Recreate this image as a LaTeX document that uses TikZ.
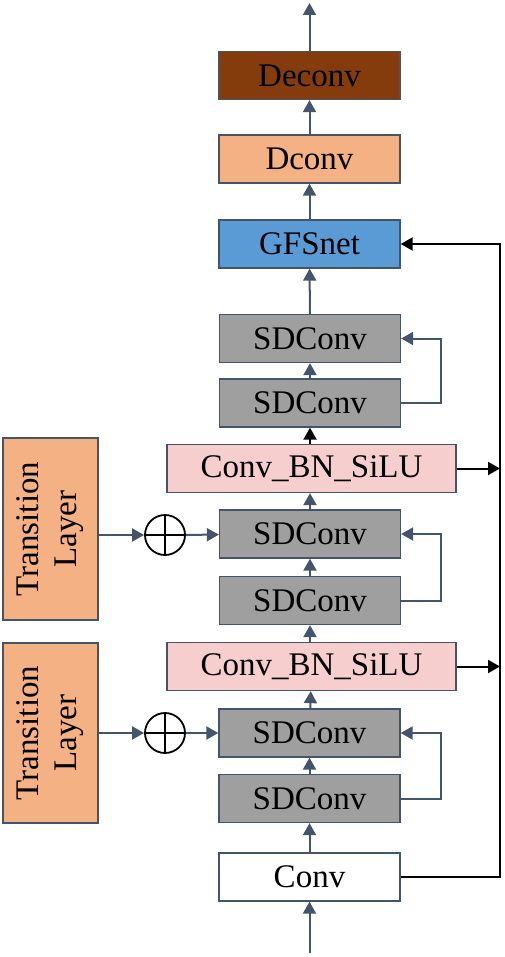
\documentclass[tikz,border=0pt]{standalone}
\usepackage{fontspec}
\setmainfont{Liberation Serif}
\usetikzlibrary{arrows.meta}

\definecolor{slate}{HTML}{44546A}
\definecolor{brownbox}{HTML}{843C0C}
\definecolor{peachbox}{HTML}{F4B183}
\definecolor{bluebox}{HTML}{5B9BD5}
\definecolor{graybox}{HTML}{9F9F9F}
\definecolor{pinkbox}{HTML}{F6CECE}

\begin{document}
\begin{tikzpicture}[x=1pt,y=-1pt,
	blk/.style={draw=slate,line width=1.3pt,minimum width=181pt,minimum height=48pt,inner sep=0pt,
		font=\fontsize{33}{38}\selectfont},
	wide/.style={blk,minimum width=289pt},
	trans/.style={blk,fill=peachbox,minimum width=95pt,minimum height=182pt},
	plus/.style={circle,draw=black,line width=1.8pt,minimum size=40pt,inner sep=0pt},
	flow/.style={draw=slate,line width=2pt,-{Triangle[width=13pt,length=12pt]}},
	link/.style={draw=black,line width=2pt,-{Triangle[width=13pt,length=12pt]}}]
			\useasboundingbox (0,0) rectangle (505,957);
			
			% main stack
			\node[blk,fill=brownbox] (deconv) at (309.5,75.5) {Deconv};
			\node[blk,fill=peachbox] (dconv) at (309.5,159) {Dconv};
			\node[blk,fill=bluebox] (gfs) at (309.5,244) {GFSnet};
			\node[blk,fill=graybox] (sd1) at (310,338.5) {SDConv};
			\node[blk,fill=graybox] (sd2) at (310,403) {SDConv};
			\node[wide,fill=pinkbox] (cbs1) at (311.5,468.5) {Conv\_BN\_SiLU};
			\node[blk,fill=graybox] (sd3) at (310,534) {SDConv};
			\node[blk,fill=graybox] (sd4) at (310,600.5) {SDConv};
			\node[wide,fill=pinkbox] (cbs2) at (311.5,666.5) {Conv\_BN\_SiLU};
			\node[blk,fill=graybox] (sd5) at (309.5,733) {SDConv};
			\node[blk,fill=graybox] (sd6) at (309.5,798.5) {SDConv};
			\node[blk,fill=white] (conv) at (309.5,877) {Conv};
			
			% side inputs
			\node[trans] (tl1) at (50.5,529) {}; \node[rotate=90,align=center,font=\fontsize{33}{38}\selectfont] (tl1txt) at (tl1) {Transition\\Layer};
			\node[trans,minimum height=180pt] (tl2) at (50.5,733) {}; \node[rotate=90,align=center,font=\fontsize{33}{38}\selectfont] (tl2txt) at (tl2) {Transition\\Layer};
			\node[plus] (op1) at (165,535) {}; \draw[line width=1.8pt] (op1.north) -- (op1.south) (op1.west) -- (op1.east);
			\node[plus] (op2) at (165,733) {}; \draw[line width=1.8pt] (op2.north) -- (op2.south) (op2.west) -- (op2.east);
			
			\coordinate (out) at (309.5,3); \coordinate (in) at (309.5,953);
			
			% upward flow
			\draw[flow] (in) -- (conv);
			\draw[flow] (conv) -- (sd6); \draw[flow] (sd6) -- (sd5); \draw[flow] (sd5) -- (cbs2);
			\draw[flow] (cbs2.north -| sd4) -- (sd4); \draw[flow] (sd4) -- (sd3); \draw[flow] (sd3) -- (cbs1.south -| sd3);
			\draw[link] (cbs1.north -| sd2) -- (sd2); \draw[flow] (sd2) -- (sd1); \draw[flow] (sd1) -- (gfs);
			\draw[flow] (gfs) -- (dconv); \draw[flow] (dconv) -- (deconv); \draw[flow] (deconv) -- (out);
			
			% residual loops
			\draw[flow] (sd2.east) -- ++(40,0) |- (sd1.east);
			\draw[flow] (sd4.east) -- ++(40,0) |- (sd3.east);
			\draw[flow] (sd6.east) -- ++(40,0) |- (sd5.east);
			
			% transition inputs
			\draw[flow] (tl1.east |- op1) -- (op1); \draw[flow] (op1) -- (sd3);
			\draw[flow] (tl2.east |- op2) -- (op2); \draw[flow] (op2) -- (sd5);
			
			% long skip on the right
			\coordinate (rb) at (500,877); \coordinate (rt) at (500,244);
			\draw[link] (conv.east) -- (rb) -- (rt) -- (gfs.east);
			\draw[link] (cbs1.east) -- (cbs1.east -| rb);
			\draw[link] (cbs2.east) -- (cbs2.east -| rb);
\end{tikzpicture}
\end{document}
